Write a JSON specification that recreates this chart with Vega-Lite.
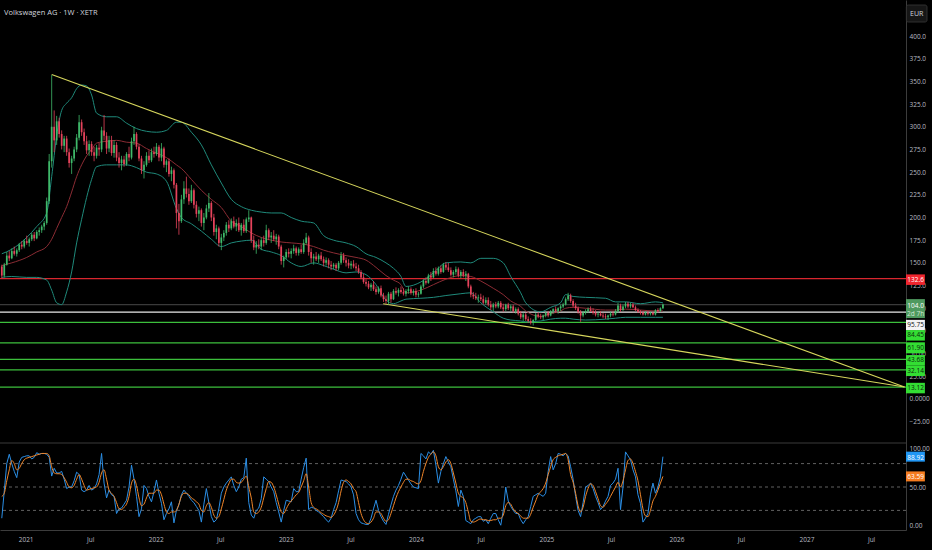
{
  "$schema": "https://vega.github.io/schema/vega-lite/v6.json",
  "autosize": "none",
  "width": 906,
  "height": 530,
  "padding": {"left": 0, "top": 0, "right": 26, "bottom": 20},
  "background": "#000000",
  "config": {
    "view": {"stroke": null},
    "font": "Open Sans",
    "axis": {"grid": false, "ticks": false, "labelColor": "#b8bbc2", "labelFontSize": 6.5, "labelFont": "Open Sans", "domainColor": "#3c3c3c", "labelOverlap": false}
  },
  "title": {
    "text": "Volkswagen AG · 1W · XETR",
    "anchor": "start",
    "frame": "group",
    "offset": -16,
    "dx": 4,
    "fontSize": 7.5,
    "fontWeight": "normal",
    "color": "#d1d4dc",
    "font": "Open Sans"
  },
  "datasets": {
    "candles": [
      {"d":"2020-10-26","o":146,"h":148,"l":133,"c":136,"r":10,"s":38},
      {"d":"2020-11-02","o":136,"h":150,"l":134,"c":148,"r":45,"s":42},
      {"d":"2020-11-09","o":148,"h":162,"l":147,"c":158,"r":80,"s":58},
      {"d":"2020-11-16","o":158,"h":163,"l":152,"c":155,"r":92,"s":72},
      {"d":"2020-11-23","o":155,"h":166,"l":154,"c":163,"r":80,"s":84},
      {"d":"2020-11-30","o":163,"h":168,"l":158,"c":160,"r":70,"s":80},
      {"d":"2020-12-07","o":160,"h":166,"l":157,"c":164,"r":62,"s":72},
      {"d":"2020-12-14","o":164,"h":172,"l":162,"c":170,"r":82,"s":74},
      {"d":"2020-12-21","o":170,"h":174,"l":165,"c":168,"r":88,"s":80},
      {"d":"2020-12-28","o":168,"h":176,"l":166,"c":174,"r":89,"s":85},
      {"d":"2021-01-04","o":174,"h":180,"l":170,"c":172,"r":90,"s":87},
      {"d":"2021-01-11","o":172,"h":178,"l":168,"c":176,"r":90,"s":88},
      {"d":"2021-01-18","o":176,"h":183,"l":174,"c":181,"r":86,"s":89},
      {"d":"2021-01-25","o":181,"h":184,"l":174,"c":177,"r":88,"s":90},
      {"d":"2021-02-01","o":177,"h":186,"l":176,"c":184,"r":94,"s":91},
      {"d":"2021-02-08","o":184,"h":189,"l":180,"c":186,"r":92,"s":92},
      {"d":"2021-02-15","o":186,"h":192,"l":183,"c":190,"r":93,"s":93},
      {"d":"2021-02-22","o":190,"h":196,"l":186,"c":194,"r":93,"s":93},
      {"d":"2021-03-01","o":194,"h":222,"l":192,"c":218,"r":92,"s":93},
      {"d":"2021-03-08","o":218,"h":270,"l":215,"c":262,"r":88,"s":90},
      {"d":"2021-03-15","o":262,"h":357,"l":255,"c":300,"r":64,"s":76},
      {"d":"2021-03-22","o":300,"h":318,"l":272,"c":285,"r":74,"s":68},
      {"d":"2021-03-29","o":285,"h":312,"l":280,"c":306,"r":68,"s":67},
      {"d":"2021-04-05","o":306,"h":310,"l":288,"c":292,"r":68,"s":67},
      {"d":"2021-04-12","o":292,"h":296,"l":275,"c":279,"r":70,"s":66},
      {"d":"2021-04-19","o":279,"h":290,"l":272,"c":287,"r":60,"s":62},
      {"d":"2021-04-26","o":287,"h":290,"l":268,"c":272,"r":48,"s":56},
      {"d":"2021-05-03","o":272,"h":276,"l":255,"c":260,"r":50,"s":50},
      {"d":"2021-05-10","o":260,"h":268,"l":248,"c":265,"r":50,"s":49},
      {"d":"2021-05-17","o":265,"h":278,"l":262,"c":275,"r":58,"s":52},
      {"d":"2021-05-24","o":275,"h":292,"l":272,"c":288,"r":69,"s":60},
      {"d":"2021-05-31","o":288,"h":313,"l":285,"c":305,"r":66,"s":66},
      {"d":"2021-06-07","o":305,"h":308,"l":290,"c":294,"r":46,"s":60},
      {"d":"2021-06-14","o":294,"h":298,"l":280,"c":284,"r":44,"s":52},
      {"d":"2021-06-21","o":284,"h":290,"l":270,"c":274,"r":46,"s":46},
      {"d":"2021-06-28","o":274,"h":285,"l":268,"c":281,"r":52,"s":47},
      {"d":"2021-07-05","o":281,"h":284,"l":268,"c":272,"r":46,"s":48},
      {"d":"2021-07-12","o":272,"h":278,"l":262,"c":268,"r":48,"s":49},
      {"d":"2021-07-19","o":268,"h":280,"l":265,"c":277,"r":54,"s":50},
      {"d":"2021-07-26","o":277,"h":282,"l":268,"c":275,"r":66,"s":56},
      {"d":"2021-08-02","o":275,"h":300,"l":272,"c":296,"r":93,"s":68},
      {"d":"2021-08-09","o":296,"h":313,"l":285,"c":290,"r":55,"s":72},
      {"d":"2021-08-16","o":290,"h":294,"l":270,"c":276,"r":36,"s":60},
      {"d":"2021-08-23","o":276,"h":290,"l":272,"c":285,"r":46,"s":46},
      {"d":"2021-08-30","o":285,"h":290,"l":268,"c":271,"r":40,"s":42},
      {"d":"2021-09-06","o":271,"h":285,"l":266,"c":280,"r":38,"s":38},
      {"d":"2021-09-13","o":280,"h":283,"l":262,"c":266,"r":16,"s":30},
      {"d":"2021-09-20","o":266,"h":272,"l":255,"c":260,"r":22,"s":22},
      {"d":"2021-09-27","o":260,"h":268,"l":252,"c":264,"r":23,"s":21},
      {"d":"2021-10-04","o":264,"h":268,"l":256,"c":259,"r":28,"s":24},
      {"d":"2021-10-11","o":259,"h":272,"l":257,"c":270,"r":33,"s":28},
      {"d":"2021-10-18","o":270,"h":278,"l":262,"c":266,"r":50,"s":38},
      {"d":"2021-10-25","o":266,"h":288,"l":264,"c":284,"r":78,"s":55},
      {"d":"2021-11-01","o":284,"h":300,"l":280,"c":292,"r":60,"s":60},
      {"d":"2021-11-08","o":292,"h":294,"l":275,"c":278,"r":38,"s":52},
      {"d":"2021-11-15","o":278,"h":281,"l":262,"c":265,"r":12,"s":36},
      {"d":"2021-11-22","o":265,"h":268,"l":248,"c":252,"r":22,"s":26},
      {"d":"2021-11-29","o":252,"h":262,"l":243,"c":258,"r":52,"s":28},
      {"d":"2021-12-06","o":258,"h":272,"l":256,"c":268,"r":48,"s":36},
      {"d":"2021-12-13","o":268,"h":274,"l":260,"c":263,"r":38,"s":42},
      {"d":"2021-12-20","o":263,"h":276,"l":261,"c":272,"r":31,"s":42},
      {"d":"2021-12-27","o":272,"h":278,"l":266,"c":270,"r":44,"s":42},
      {"d":"2022-01-03","o":270,"h":282,"l":268,"c":278,"r":59,"s":46},
      {"d":"2022-01-10","o":278,"h":280,"l":262,"c":266,"r":42,"s":46},
      {"d":"2022-01-17","o":266,"h":282,"l":262,"c":276,"r":29,"s":40},
      {"d":"2022-01-24","o":276,"h":278,"l":255,"c":258,"r":8,"s":28},
      {"d":"2022-01-31","o":258,"h":264,"l":250,"c":262,"r":16,"s":18},
      {"d":"2022-02-07","o":262,"h":265,"l":245,"c":248,"r":22,"s":16},
      {"d":"2022-02-14","o":248,"h":256,"l":240,"c":252,"r":31,"s":18},
      {"d":"2022-02-21","o":252,"h":254,"l":232,"c":236,"r":4,"s":18},
      {"d":"2022-02-28","o":236,"h":238,"l":188,"c":205,"r":20,"s":20},
      {"d":"2022-03-07","o":205,"h":215,"l":181,"c":196,"r":27,"s":28},
      {"d":"2022-03-14","o":196,"h":225,"l":194,"c":220,"r":40,"s":38},
      {"d":"2022-03-21","o":220,"h":240,"l":215,"c":232,"r":46,"s":42},
      {"d":"2022-03-28","o":232,"h":245,"l":222,"c":226,"r":42,"s":42},
      {"d":"2022-04-04","o":226,"h":232,"l":214,"c":218,"r":38,"s":40},
      {"d":"2022-04-11","o":218,"h":236,"l":216,"c":230,"r":33,"s":36},
      {"d":"2022-04-18","o":230,"h":232,"l":210,"c":214,"r":30,"s":34},
      {"d":"2022-04-25","o":214,"h":218,"l":200,"c":204,"r":25,"s":31},
      {"d":"2022-05-02","o":204,"h":212,"l":196,"c":208,"r":20,"s":28},
      {"d":"2022-05-09","o":208,"h":210,"l":190,"c":194,"r":5,"s":20},
      {"d":"2022-05-16","o":194,"h":205,"l":186,"c":200,"r":28,"s":18},
      {"d":"2022-05-23","o":200,"h":214,"l":198,"c":210,"r":48,"s":26},
      {"d":"2022-05-30","o":210,"h":227,"l":206,"c":216,"r":30,"s":30},
      {"d":"2022-06-06","o":216,"h":218,"l":196,"c":200,"r":12,"s":24},
      {"d":"2022-06-13","o":200,"h":204,"l":180,"c":184,"r":5,"s":14},
      {"d":"2022-06-20","o":184,"h":192,"l":176,"c":188,"r":8,"s":10},
      {"d":"2022-06-27","o":188,"h":190,"l":168,"c":172,"r":22,"s":12},
      {"d":"2022-07-04","o":172,"h":182,"l":164,"c":178,"r":42,"s":22},
      {"d":"2022-07-11","o":178,"h":186,"l":174,"c":183,"r":50,"s":34},
      {"d":"2022-07-18","o":183,"h":195,"l":180,"c":192,"r":55,"s":46},
      {"d":"2022-07-25","o":192,"h":197,"l":184,"c":188,"r":59,"s":54},
      {"d":"2022-08-01","o":188,"h":199,"l":186,"c":196,"r":63,"s":60},
      {"d":"2022-08-08","o":196,"h":201,"l":188,"c":190,"r":52,"s":60},
      {"d":"2022-08-15","o":190,"h":198,"l":185,"c":194,"r":44,"s":56},
      {"d":"2022-08-22","o":194,"h":200,"l":184,"c":186,"r":50,"s":55},
      {"d":"2022-08-29","o":186,"h":194,"l":180,"c":192,"r":60,"s":56},
      {"d":"2022-09-05","o":192,"h":198,"l":183,"c":185,"r":62,"s":60},
      {"d":"2022-09-12","o":185,"h":200,"l":183,"c":198,"r":87,"s":64},
      {"d":"2022-09-19","o":198,"h":208,"l":195,"c":200,"r":30,"s":50},
      {"d":"2022-09-26","o":200,"h":201,"l":172,"c":175,"r":14,"s":36},
      {"d":"2022-10-03","o":175,"h":180,"l":164,"c":167,"r":10,"s":18},
      {"d":"2022-10-10","o":167,"h":174,"l":160,"c":170,"r":20,"s":16},
      {"d":"2022-10-17","o":170,"h":176,"l":165,"c":168,"r":23,"s":18},
      {"d":"2022-10-24","o":168,"h":178,"l":164,"c":175,"r":35,"s":24},
      {"d":"2022-10-31","o":175,"h":180,"l":168,"c":172,"r":63,"s":36},
      {"d":"2022-11-07","o":172,"h":192,"l":170,"c":186,"r":60,"s":48},
      {"d":"2022-11-14","o":186,"h":188,"l":175,"c":178,"r":57,"s":57},
      {"d":"2022-11-21","o":178,"h":184,"l":172,"c":180,"r":50,"s":56},
      {"d":"2022-11-28","o":180,"h":186,"l":174,"c":176,"r":44,"s":50},
      {"d":"2022-12-05","o":176,"h":182,"l":170,"c":179,"r":30,"s":40},
      {"d":"2022-12-12","o":179,"h":181,"l":165,"c":168,"r":18,"s":28},
      {"d":"2022-12-19","o":168,"h":170,"l":148,"c":152,"r":5,"s":18},
      {"d":"2022-12-26","o":152,"h":158,"l":145,"c":156,"r":20,"s":16},
      {"d":"2023-01-02","o":156,"h":165,"l":154,"c":162,"r":33,"s":22},
      {"d":"2023-01-09","o":162,"h":166,"l":156,"c":160,"r":32,"s":28},
      {"d":"2023-01-16","o":160,"h":166,"l":155,"c":163,"r":31,"s":32},
      {"d":"2023-01-23","o":163,"h":170,"l":160,"c":166,"r":48,"s":36},
      {"d":"2023-01-30","o":166,"h":168,"l":158,"c":161,"r":44,"s":40},
      {"d":"2023-02-06","o":161,"h":167,"l":158,"c":165,"r":44,"s":43},
      {"d":"2023-02-13","o":165,"h":170,"l":160,"c":162,"r":60,"s":50},
      {"d":"2023-02-20","o":162,"h":176,"l":160,"c":172,"r":75,"s":58},
      {"d":"2023-02-27","o":172,"h":183,"l":170,"c":178,"r":87,"s":67},
      {"d":"2023-03-06","o":178,"h":180,"l":158,"c":162,"r":21,"s":50},
      {"d":"2023-03-13","o":162,"h":166,"l":150,"c":155,"r":24,"s":30},
      {"d":"2023-03-20","o":155,"h":160,"l":148,"c":157,"r":23,"s":24},
      {"d":"2023-03-27","o":157,"h":162,"l":152,"c":154,"r":20,"s":22},
      {"d":"2023-04-03","o":154,"h":160,"l":150,"c":158,"r":18,"s":20},
      {"d":"2023-04-10","o":158,"h":162,"l":152,"c":154,"r":15,"s":17},
      {"d":"2023-04-17","o":154,"h":157,"l":146,"c":150,"r":12,"s":15},
      {"d":"2023-04-24","o":150,"h":156,"l":147,"c":153,"r":8,"s":13},
      {"d":"2023-05-01","o":153,"h":155,"l":144,"c":148,"r":5,"s":12},
      {"d":"2023-05-08","o":148,"h":152,"l":142,"c":146,"r":10,"s":11},
      {"d":"2023-05-15","o":146,"h":150,"l":143,"c":148,"r":21,"s":14},
      {"d":"2023-05-22","o":148,"h":150,"l":141,"c":144,"r":30,"s":20},
      {"d":"2023-05-29","o":144,"h":152,"l":142,"c":150,"r":45,"s":30},
      {"d":"2023-06-05","o":150,"h":162,"l":148,"c":158,"r":59,"s":45},
      {"d":"2023-06-12","o":158,"h":161,"l":150,"c":153,"r":58,"s":56},
      {"d":"2023-06-19","o":153,"h":156,"l":146,"c":150,"r":57,"s":59},
      {"d":"2023-06-26","o":150,"h":154,"l":144,"c":147,"r":54,"s":57},
      {"d":"2023-07-03","o":147,"h":152,"l":143,"c":149,"r":50,"s":54},
      {"d":"2023-07-10","o":149,"h":153,"l":144,"c":146,"r":40,"s":48},
      {"d":"2023-07-17","o":146,"h":150,"l":141,"c":144,"r":16,"s":44},
      {"d":"2023-07-24","o":144,"h":148,"l":138,"c":140,"r":8,"s":30},
      {"d":"2023-07-31","o":140,"h":142,"l":132,"c":134,"r":4,"s":16},
      {"d":"2023-08-07","o":134,"h":138,"l":127,"c":129,"r":3,"s":8},
      {"d":"2023-08-14","o":129,"h":132,"l":124,"c":127,"r":2,"s":4},
      {"d":"2023-08-21","o":127,"h":130,"l":121,"c":123,"r":2,"s":3},
      {"d":"2023-08-28","o":123,"h":128,"l":119,"c":126,"r":10,"s":5},
      {"d":"2023-09-04","o":126,"h":130,"l":119,"c":121,"r":22,"s":10},
      {"d":"2023-09-11","o":121,"h":124,"l":115,"c":118,"r":33,"s":18},
      {"d":"2023-09-18","o":118,"h":124,"l":116,"c":122,"r":20,"s":18},
      {"d":"2023-09-25","o":122,"h":125,"l":112,"c":114,"r":12,"s":16},
      {"d":"2023-10-02","o":114,"h":117,"l":107,"c":110,"r":6,"s":10},
      {"d":"2023-10-09","o":110,"h":114,"l":105,"c":108,"r":2,"s":6},
      {"d":"2023-10-16","o":108,"h":118,"l":104,"c":116,"r":15,"s":8},
      {"d":"2023-10-23","o":116,"h":118,"l":106,"c":110,"r":27,"s":16},
      {"d":"2023-10-30","o":110,"h":121,"l":109,"c":119,"r":38,"s":26},
      {"d":"2023-11-06","o":119,"h":123,"l":115,"c":117,"r":46,"s":36},
      {"d":"2023-11-13","o":117,"h":122,"l":113,"c":120,"r":52,"s":44},
      {"d":"2023-11-20","o":120,"h":124,"l":116,"c":118,"r":60,"s":50},
      {"d":"2023-11-27","o":118,"h":122,"l":114,"c":116,"r":69,"s":56},
      {"d":"2023-12-04","o":116,"h":121,"l":113,"c":119,"r":64,"s":60},
      {"d":"2023-12-11","o":119,"h":124,"l":116,"c":121,"r":59,"s":60},
      {"d":"2023-12-18","o":121,"h":123,"l":115,"c":117,"r":54,"s":58},
      {"d":"2023-12-25","o":117,"h":121,"l":114,"c":119,"r":50,"s":57},
      {"d":"2024-01-01","o":119,"h":122,"l":112,"c":115,"r":49,"s":55},
      {"d":"2024-01-08","o":115,"h":118,"l":112,"c":116,"r":48,"s":54},
      {"d":"2024-01-15","o":116,"h":126,"l":115,"c":124,"r":93,"s":58},
      {"d":"2024-01-22","o":124,"h":132,"l":122,"c":130,"r":90,"s":70},
      {"d":"2024-01-29","o":130,"h":134,"l":126,"c":128,"r":86,"s":80},
      {"d":"2024-02-05","o":128,"h":138,"l":127,"c":136,"r":95,"s":88},
      {"d":"2024-02-12","o":136,"h":140,"l":130,"c":134,"r":92,"s":92},
      {"d":"2024-02-19","o":134,"h":144,"l":133,"c":141,"r":97,"s":95},
      {"d":"2024-02-26","o":141,"h":145,"l":136,"c":138,"r":78,"s":90},
      {"d":"2024-03-04","o":138,"h":146,"l":136,"c":144,"r":55,"s":76},
      {"d":"2024-03-11","o":144,"h":147,"l":138,"c":140,"r":70,"s":72},
      {"d":"2024-03-18","o":140,"h":150,"l":139,"c":148,"r":80,"s":76},
      {"d":"2024-03-25","o":148,"h":151,"l":142,"c":145,"r":89,"s":82},
      {"d":"2024-04-01","o":145,"h":150,"l":140,"c":142,"r":82,"s":85},
      {"d":"2024-04-08","o":142,"h":145,"l":135,"c":137,"r":76,"s":80},
      {"d":"2024-04-15","o":137,"h":142,"l":134,"c":140,"r":60,"s":68},
      {"d":"2024-04-22","o":140,"h":146,"l":137,"c":143,"r":45,"s":55},
      {"d":"2024-04-29","o":143,"h":145,"l":134,"c":136,"r":25,"s":42},
      {"d":"2024-05-06","o":136,"h":142,"l":133,"c":140,"r":46,"s":38},
      {"d":"2024-05-13","o":140,"h":143,"l":134,"c":136,"r":38,"s":36},
      {"d":"2024-05-20","o":136,"h":141,"l":130,"c":138,"r":7,"s":30},
      {"d":"2024-05-27","o":138,"h":139,"l":122,"c":124,"r":5,"s":18},
      {"d":"2024-06-03","o":124,"h":126,"l":112,"c":115,"r":3,"s":6},
      {"d":"2024-06-10","o":115,"h":118,"l":110,"c":113,"r":8,"s":5},
      {"d":"2024-06-17","o":113,"h":117,"l":109,"c":111,"r":10,"s":6},
      {"d":"2024-06-24","o":111,"h":115,"l":106,"c":112,"r":12,"s":8},
      {"d":"2024-07-01","o":112,"h":116,"l":108,"c":110,"r":12,"s":9},
      {"d":"2024-07-08","o":110,"h":114,"l":104,"c":106,"r":6,"s":8},
      {"d":"2024-07-15","o":106,"h":112,"l":104,"c":109,"r":8,"s":8},
      {"d":"2024-07-22","o":109,"h":112,"l":102,"c":104,"r":3,"s":7},
      {"d":"2024-07-29","o":104,"h":108,"l":98,"c":101,"r":10,"s":7},
      {"d":"2024-08-05","o":101,"h":106,"l":97,"c":104,"r":16,"s":8},
      {"d":"2024-08-12","o":104,"h":107,"l":100,"c":102,"r":16,"s":8},
      {"d":"2024-08-19","o":102,"h":108,"l":100,"c":106,"r":8,"s":10},
      {"d":"2024-08-26","o":106,"h":108,"l":99,"c":101,"r":1,"s":10},
      {"d":"2024-09-02","o":101,"h":105,"l":96,"c":99,"r":20,"s":14},
      {"d":"2024-09-09","o":99,"h":105,"l":97,"c":104,"r":50,"s":26},
      {"d":"2024-09-16","o":104,"h":106,"l":98,"c":100,"r":32,"s":30},
      {"d":"2024-09-23","o":100,"h":104,"l":97,"c":102,"r":25,"s":28},
      {"d":"2024-09-30","o":102,"h":104,"l":95,"c":97,"r":20,"s":22},
      {"d":"2024-10-07","o":97,"h":101,"l":94,"c":99,"r":16,"s":18},
      {"d":"2024-10-14","o":99,"h":101,"l":92,"c":94,"r":16,"s":16},
      {"d":"2024-10-21","o":94,"h":97,"l":88,"c":90,"r":8,"s":13},
      {"d":"2024-10-28","o":90,"h":95,"l":86,"c":93,"r":3,"s":10},
      {"d":"2024-11-04","o":93,"h":95,"l":86,"c":88,"r":8,"s":10},
      {"d":"2024-11-11","o":88,"h":91,"l":84,"c":86,"r":12,"s":10},
      {"d":"2024-11-18","o":86,"h":89,"l":82,"c":84,"r":25,"s":15},
      {"d":"2024-11-25","o":84,"h":88,"l":81,"c":87,"r":38,"s":24},
      {"d":"2024-12-02","o":87,"h":95,"l":86,"c":93,"r":40,"s":32},
      {"d":"2024-12-09","o":93,"h":96,"l":89,"c":91,"r":42,"s":40},
      {"d":"2024-12-16","o":91,"h":94,"l":88,"c":90,"r":40,"s":44},
      {"d":"2024-12-23","o":90,"h":93,"l":87,"c":92,"r":38,"s":48},
      {"d":"2024-12-30","o":92,"h":96,"l":90,"c":95,"r":42,"s":55},
      {"d":"2025-01-06","o":95,"h":97,"l":90,"c":92,"r":70,"s":66},
      {"d":"2025-01-13","o":92,"h":98,"l":91,"c":97,"r":89,"s":76},
      {"d":"2025-01-20","o":97,"h":100,"l":94,"c":99,"r":72,"s":85},
      {"d":"2025-01-27","o":99,"h":102,"l":95,"c":97,"r":80,"s":88},
      {"d":"2025-02-03","o":97,"h":101,"l":94,"c":100,"r":93,"s":90},
      {"d":"2025-02-10","o":100,"h":104,"l":97,"c":102,"r":92,"s":91},
      {"d":"2025-02-17","o":102,"h":106,"l":100,"c":104,"r":90,"s":92},
      {"d":"2025-02-24","o":104,"h":112,"l":103,"c":110,"r":93,"s":93},
      {"d":"2025-03-03","o":110,"h":117,"l":108,"c":114,"r":90,"s":85},
      {"d":"2025-03-10","o":114,"h":116,"l":106,"c":108,"r":76,"s":66},
      {"d":"2025-03-17","o":108,"h":110,"l":101,"c":103,"r":60,"s":56},
      {"d":"2025-03-24","o":103,"h":106,"l":98,"c":100,"r":38,"s":42},
      {"d":"2025-03-31","o":100,"h":102,"l":94,"c":96,"r":20,"s":26},
      {"d":"2025-04-07","o":96,"h":98,"l":85,"c":92,"r":12,"s":18},
      {"d":"2025-04-14","o":92,"h":97,"l":90,"c":95,"r":30,"s":24},
      {"d":"2025-04-21","o":95,"h":99,"l":93,"c":97,"r":50,"s":38},
      {"d":"2025-04-28","o":97,"h":101,"l":95,"c":99,"r":52,"s":48},
      {"d":"2025-05-05","o":99,"h":102,"l":96,"c":97,"r":55,"s":54},
      {"d":"2025-05-12","o":97,"h":100,"l":93,"c":95,"r":48,"s":52},
      {"d":"2025-05-19","o":95,"h":98,"l":91,"c":93,"r":38,"s":44},
      {"d":"2025-05-26","o":93,"h":96,"l":90,"c":94,"r":30,"s":35},
      {"d":"2025-06-02","o":94,"h":97,"l":91,"c":92,"r":21,"s":26},
      {"d":"2025-06-09","o":92,"h":95,"l":89,"c":91,"r":25,"s":24},
      {"d":"2025-06-16","o":91,"h":94,"l":88,"c":90,"r":32,"s":28},
      {"d":"2025-06-23","o":90,"h":93,"l":87,"c":92,"r":38,"s":32},
      {"d":"2025-06-30","o":92,"h":96,"l":90,"c":94,"r":52,"s":38},
      {"d":"2025-07-07","o":94,"h":97,"l":91,"c":93,"r":55,"s":44},
      {"d":"2025-07-14","o":93,"h":99,"l":92,"c":97,"r":60,"s":50},
      {"d":"2025-07-21","o":97,"h":106,"l":95,"c":103,"r":74,"s":56},
      {"d":"2025-07-28","o":103,"h":105,"l":96,"c":98,"r":21,"s":50},
      {"d":"2025-08-04","o":98,"h":104,"l":97,"c":102,"r":50,"s":58},
      {"d":"2025-08-11","o":102,"h":107,"l":100,"c":105,"r":95,"s":72},
      {"d":"2025-08-18","o":105,"h":107,"l":100,"c":102,"r":90,"s":84},
      {"d":"2025-08-25","o":102,"h":106,"l":100,"c":104,"r":85,"s":86},
      {"d":"2025-09-01","o":104,"h":106,"l":100,"c":101,"r":72,"s":80},
      {"d":"2025-09-08","o":101,"h":103,"l":97,"c":98,"r":63,"s":70},
      {"d":"2025-09-15","o":98,"h":100,"l":95,"c":96,"r":40,"s":58},
      {"d":"2025-09-22","o":96,"h":98,"l":93,"c":95,"r":29,"s":40},
      {"d":"2025-09-29","o":95,"h":97,"l":92,"c":93,"r":5,"s":22},
      {"d":"2025-10-06","o":93,"h":97,"l":92,"c":95,"r":10,"s":13},
      {"d":"2025-10-13","o":95,"h":97,"l":92,"c":94,"r":16,"s":12},
      {"d":"2025-10-20","o":94,"h":96,"l":92,"c":95,"r":40,"s":20},
      {"d":"2025-10-27","o":95,"h":96,"l":92,"c":93,"r":55,"s":32},
      {"d":"2025-11-03","o":93,"h":99,"l":92,"c":98,"r":42,"s":38},
      {"d":"2025-11-10","o":98,"h":100,"l":95,"c":97,"r":50,"s":46},
      {"d":"2025-11-17","o":97,"h":101,"l":96,"c":100,"r":63,"s":55},
      {"d":"2025-11-24","o":100,"h":105,"l":99,"c":104,"r":88.92,"s":63.59}
    ],
    "bb": [
      {"d":"2020-10-26","u":160,"m":147,"l":134},
      {"d":"2020-11-23","u":165,"m":150,"l":135},
      {"d":"2021-01-04","u":178,"m":156,"l":134},
      {"d":"2021-02-01","u":190,"m":162,"l":134},
      {"d":"2021-03-01","u":205,"m":168,"l":131},
      {"d":"2021-03-15","u":245,"m":176,"l":120},
      {"d":"2021-03-29","u":290,"m":188,"l":106},
      {"d":"2021-04-12","u":318,"m":200,"l":104},
      {"d":"2021-04-26","u":326,"m":212,"l":118},
      {"d":"2021-05-10","u":332,"m":228,"l":140},
      {"d":"2021-05-24","u":342,"m":245,"l":172},
      {"d":"2021-06-07","u":346,"m":258,"l":198},
      {"d":"2021-06-21","u":345,"m":268,"l":222},
      {"d":"2021-07-05","u":335,"m":275,"l":242},
      {"d":"2021-07-19","u":315,"m":282,"l":256},
      {"d":"2021-08-16","u":311,"m":284,"l":258},
      {"d":"2021-09-13","u":311,"m":285,"l":258},
      {"d":"2021-10-11","u":304,"m":283,"l":258},
      {"d":"2021-11-08","u":298,"m":282,"l":255},
      {"d":"2021-12-06","u":295,"m":276,"l":250},
      {"d":"2022-01-03","u":294,"m":271,"l":248},
      {"d":"2022-01-31","u":296,"m":266,"l":240},
      {"d":"2022-02-28","u":305,"m":258,"l":210},
      {"d":"2022-03-14","u":305,"m":254,"l":200},
      {"d":"2022-04-11","u":294,"m":242,"l":193},
      {"d":"2022-05-09","u":280,"m":230,"l":185},
      {"d":"2022-06-06","u":258,"m":220,"l":176},
      {"d":"2022-07-04","u":238,"m":211,"l":168},
      {"d":"2022-08-01","u":220,"m":196,"l":172},
      {"d":"2022-08-29","u":212,"m":190,"l":174},
      {"d":"2022-09-26","u":208,"m":183,"l":175},
      {"d":"2022-10-24","u":206,"m":178,"l":165},
      {"d":"2022-11-21","u":205,"m":175,"l":162},
      {"d":"2022-12-19","u":205,"m":173,"l":158},
      {"d":"2023-01-16","u":200,"m":172,"l":150},
      {"d":"2023-02-13","u":196,"m":171,"l":146},
      {"d":"2023-03-20","u":194,"m":168,"l":150},
      {"d":"2023-04-17","u":180,"m":164,"l":147},
      {"d":"2023-05-15","u":175,"m":161,"l":143},
      {"d":"2023-06-19","u":172,"m":158,"l":139},
      {"d":"2023-07-17","u":168,"m":156,"l":140},
      {"d":"2023-08-14","u":160,"m":153,"l":137},
      {"d":"2023-09-11","u":156,"m":145,"l":126},
      {"d":"2023-10-09","u":150,"m":136,"l":109},
      {"d":"2023-10-30","u":144,"m":131,"l":105},
      {"d":"2023-11-20","u":135,"m":126,"l":108},
      {"d":"2023-12-04","u":124,"m":117,"l":110},
      {"d":"2024-01-15","u":129,"m":120,"l":111},
      {"d":"2024-02-19","u":139,"m":126,"l":112},
      {"d":"2024-03-25","u":150,"m":132,"l":114},
      {"d":"2024-05-06","u":151,"m":136,"l":116},
      {"d":"2024-06-03","u":150,"m":135,"l":117},
      {"d":"2024-07-01","u":155,"m":130,"l":106},
      {"d":"2024-08-05","u":155,"m":122,"l":96},
      {"d":"2024-09-02","u":150,"m":115,"l":89},
      {"d":"2024-09-23","u":135,"m":108,"l":87},
      {"d":"2024-10-21","u":117,"m":102,"l":86},
      {"d":"2024-11-04","u":106,"m":97,"l":85},
      {"d":"2024-12-16","u":96,"m":91,"l":86},
      {"d":"2025-01-13","u":101,"m":94,"l":88},
      {"d":"2025-02-10","u":106,"m":97,"l":89},
      {"d":"2025-02-24","u":115,"m":100,"l":89},
      {"d":"2025-03-17","u":113,"m":101,"l":88},
      {"d":"2025-04-21","u":112,"m":100,"l":87},
      {"d":"2025-06-16","u":111,"m":98,"l":88},
      {"d":"2025-07-14","u":107,"m":98,"l":89},
      {"d":"2025-08-11","u":107,"m":99,"l":90},
      {"d":"2025-09-22","u":105,"m":98,"l":90},
      {"d":"2025-11-03","u":107,"m":97,"l":90},
      {"d":"2025-11-24","u":106,"m":97,"l":90}
    ],
    "trend": [
      {"id":"upper","d":"2021-03-15","v":357.5},
      {"id":"upper","d":"2027-10-03","v":13.12},
      {"id":"lower","d":"2023-10-01","v":105},
      {"id":"lower","d":"2027-10-03","v":13.12}
    ],
    "levels": [
      {"v":132.6,"k":"res"},
      {"v":104.0,"k":"last"},
      {"v":95.75,"k":"ref"},
      {"v":84.45,"k":"sup"},
      {"v":61.90,"k":"sup"},
      {"v":43.68,"k":"sup"},
      {"v":32.14,"k":"sup"},
      {"v":13.12,"k":"sup"}
    ],
    "tags": [
      {"p":132.6,"t":"132.6","k":"res"},
      {"p":104.0,"t":"104.0","k":"last"},
      {"p":95.75,"t":"95.75","k":"ref"},
      {"p":84.45,"t":"84.45","k":"sup"},
      {"p":61.90,"t":"61.90","k":"sup"},
      {"p":43.68,"t":"43.68","k":"sup"},
      {"p":32.14,"t":"32.14","k":"sup"},
      {"p":13.12,"t":"13.12","k":"sup"}
    ],
    "rsiTags": [
      {"r":88.92,"t":"88.92","k":"rsi"},
      {"r":63.59,"t":"63.59","k":"ma"}
    ],
    "rsiLevels": [{"lvl":80},{"lvl":50},{"lvl":20}]
  },
  "resolve": {"scale": {"y": "independent"}},
  "layer": [
    {
      "layer": [
        {
          "data": {"name": "levels"},
          "mark": {"type": "rule", "strokeWidth": 1.3},
          "encoding": {
            "y": {
              "field": "v", "type": "quantitative", "title": null,
              "scale": {"domain": [-144.4, 439.7], "nice": false, "zero": false, "padding": 0},
              "axis": {
                "orient": "right",
                "values": [-25, 25, 75, 125, 175, 225, 275, 325, 375],
                "labelExpr": "datum.value >= 100 ? format(datum.value, '.1f') : format(datum.value, '.2f')",
                "labelAlign": "left",
                "labelPadding": 3,
                "domain": true,
                "labelOverlap": false
              }
            },
            "stroke": {
              "field": "k", "type": "nominal", "legend": null,
              "scale": {"domain": ["res", "last", "ref", "sup"], "range": ["#d8262e", "#3a3a3a", "#e8e8e8", "#3cbf3c"]}
            }
          }
        },
        {
          "data": {"name": "bb"},
          "mark": {"type": "line", "color": "#1f8a7b", "strokeWidth": 1, "interpolate": "monotone"},
          "encoding": {
            "x": {"field": "d", "type": "temporal", "title": null},
            "y": {"field": "u", "type": "quantitative", "title": null}
          }
        },
        {
          "data": {"name": "bb"},
          "mark": {"type": "line", "color": "#1f8a7b", "strokeWidth": 1, "interpolate": "monotone"},
          "encoding": {
            "x": {"field": "d", "type": "temporal", "title": null},
            "y": {"field": "l", "type": "quantitative", "title": null}
          }
        },
        {
          "data": {"name": "bb"},
          "mark": {"type": "line", "color": "#8c2c34", "strokeWidth": 1, "interpolate": "monotone"},
          "encoding": {
            "x": {"field": "d", "type": "temporal", "title": null},
            "y": {"field": "m", "type": "quantitative", "title": null}
          }
        },
        {
          "data": {"name": "trend"},
          "mark": {"type": "line", "color": "#d6d65c", "strokeWidth": 1.1},
          "encoding": {
            "x": {"field": "d", "type": "temporal", "title": null},
            "y": {"field": "v", "type": "quantitative", "title": null},
            "detail": {"field": "id"}
          }
        },
        {
          "data": {"name": "candles"},
          "mark": {"type": "rule", "strokeWidth": 0.8},
          "encoding": {
            "x": {"field": "d", "type": "temporal", "title": null},
            "y": {"field": "l", "type": "quantitative", "title": null},
            "y2": {"field": "h"},
            "color": {"condition": {"test": "datum.c >= datum.o", "value": "#3fb96a"}, "value": "#e5435b"}
          }
        },
        {
          "data": {"name": "candles"},
          "mark": {"type": "bar", "size": 1.7},
          "encoding": {
            "x": {
              "field": "d", "type": "temporal", "title": null,
              "scale": {"domain": [{"year": 2020, "month": 10, "date": 21}, {"year": 2027, "month": 10, "date": 7}], "padding": 0},
              "axis": {
                "values": [
                  {"year": 2021, "month": 1, "date": 1}, {"year": 2021, "month": 7, "date": 1},
                  {"year": 2022, "month": 1, "date": 1}, {"year": 2022, "month": 7, "date": 1},
                  {"year": 2023, "month": 1, "date": 1}, {"year": 2023, "month": 7, "date": 1},
                  {"year": 2024, "month": 1, "date": 1}, {"year": 2024, "month": 7, "date": 1},
                  {"year": 2025, "month": 1, "date": 1}, {"year": 2025, "month": 7, "date": 1},
                  {"year": 2026, "month": 1, "date": 1}, {"year": 2026, "month": 7, "date": 1},
                  {"year": 2027, "month": 1, "date": 1}, {"year": 2027, "month": 7, "date": 1}
                ],
                "labelExpr": "month(datum.value) == 0 ? timeFormat(datum.value, '%Y') : 'Jul'",
                "labelPadding": 6,
                "labelFlush": false,
                "labelOverlap": false,
                "domain": true
              }
            },
            "y": {"field": "o", "type": "quantitative", "title": null},
            "y2": {"field": "c"},
            "color": {"condition": {"test": "datum.c >= datum.o", "value": "#3fb96a"}, "value": "#e5435b"}
          }
        },
        {
          "data": {"name": "tags"},
          "transform": [{"filter": {"field": "p", "oneOf": [132.6, 43.68, 32.14, 13.12]}}],
          "mark": {"type": "bar", "orient": "horizontal", "size": 10.5, "yOffset": 1},
          "encoding": {
            "x": {"datum": {"year": 2027, "month": 10, "date": 7}, "type": "temporal", "title": null},
            "x2": {"datum": {"year": 2027, "month": 11, "date": 29}},
            "y": {"field": "p", "type": "quantitative", "title": null},
            "fill": {"field": "k", "type": "nominal", "legend": null, "scale": {"domain": ["res", "last", "ref", "sup"], "range": ["#f0252e", "#4f9a5f", "#f4f4f4", "#33dd33"]}}
          }
        },
        {
          "data": {"name": "tags"},
          "transform": [{"filter": {"field": "p", "oneOf": [95.75, 84.45]}}],
          "mark": {"type": "bar", "orient": "horizontal", "size": 10.5, "yOffset": 13},
          "encoding": {
            "x": {"datum": {"year": 2027, "month": 10, "date": 7}, "type": "temporal", "title": null},
            "x2": {"datum": {"year": 2027, "month": 11, "date": 29}},
            "y": {"field": "p", "type": "quantitative", "title": null},
            "fill": {"field": "k", "type": "nominal", "legend": null, "scale": {"domain": ["res", "last", "ref", "sup"], "range": ["#f0252e", "#4f9a5f", "#f4f4f4", "#33dd33"]}}
          }
        },
        {
          "data": {"name": "tags"},
          "transform": [{"filter": {"field": "p", "oneOf": [61.9]}}],
          "mark": {"type": "bar", "orient": "horizontal", "size": 11, "yOffset": 5},
          "encoding": {
            "x": {"datum": {"year": 2027, "month": 10, "date": 7}, "type": "temporal", "title": null},
            "x2": {"datum": {"year": 2027, "month": 11, "date": 29}},
            "y": {"field": "p", "type": "quantitative", "title": null},
            "fill": {"field": "k", "type": "nominal", "legend": null, "scale": {"domain": ["res", "last", "ref", "sup"], "range": ["#f0252e", "#4f9a5f", "#f4f4f4", "#33dd33"]}}
          }
        },
        {
          "data": {"name": "tags"},
          "transform": [{"filter": {"field": "p", "oneOf": [104]}}],
          "mark": {"type": "bar", "orient": "horizontal", "size": 19, "yOffset": 4},
          "encoding": {
            "x": {"datum": {"year": 2027, "month": 10, "date": 7}, "type": "temporal", "title": null},
            "x2": {"datum": {"year": 2027, "month": 11, "date": 29}},
            "y": {"field": "p", "type": "quantitative", "title": null},
            "fill": {"field": "k", "type": "nominal", "legend": null, "scale": {"domain": ["res", "last", "ref", "sup"], "range": ["#f0252e", "#4f9a5f", "#f4f4f4", "#33dd33"]}}
          }
        },
        {
          "data": {"name": "tags"},
          "transform": [{"filter": {"field": "p", "oneOf": [132.6, 43.68, 32.14, 13.12, 104]}}],
          "mark": {"type": "text", "fontSize": 6.5, "align": "center", "baseline": "middle", "dy": 1},
          "encoding": {
            "x": {"datum": {"year": 2027, "month": 11, "date": 3}, "type": "temporal", "title": null},
            "y": {"field": "p", "type": "quantitative", "title": null},
            "text": {"field": "t"},
            "color": {"condition": {"test": "datum.k == 'ref' || datum.k == 'sup'", "value": "#0c230c"}, "value": "#ffffff"}
          }
        },
        {
          "data": {"name": "tags"},
          "transform": [{"filter": {"field": "p", "oneOf": [95.75, 84.45]}}],
          "mark": {"type": "text", "fontSize": 6.5, "align": "center", "baseline": "middle", "dy": 13},
          "encoding": {
            "x": {"datum": {"year": 2027, "month": 11, "date": 3}, "type": "temporal", "title": null},
            "y": {"field": "p", "type": "quantitative", "title": null},
            "text": {"field": "t"},
            "color": {"condition": {"test": "datum.k == 'ref'", "value": "#111111"}, "value": "#0c230c"}
          }
        },
        {
          "data": {"name": "tags"},
          "transform": [{"filter": {"field": "p", "oneOf": [61.9]}}],
          "mark": {"type": "text", "fontSize": 6.5, "align": "center", "baseline": "middle", "dy": 5},
          "encoding": {
            "x": {"datum": {"year": 2027, "month": 11, "date": 3}, "type": "temporal", "title": null},
            "y": {"field": "p", "type": "quantitative", "title": null},
            "text": {"field": "t"},
            "color": {"value": "#0c230c"}
          }
        },
        {
          "data": {"name": "tags"},
          "transform": [{"filter": {"field": "p", "oneOf": [104]}}],
          "mark": {"type": "text", "fontSize": 6.5, "align": "center", "baseline": "middle", "dy": 9, "color": "#cfe8d4"},
          "encoding": {
            "x": {"datum": {"year": 2027, "month": 11, "date": 3}, "type": "temporal", "title": null},
            "y": {"field": "p", "type": "quantitative", "title": null},
            "text": {"value": "2d 7h"}
          }
        },
        {
          "data": {"values": [{"unit": "EUR"}]},
          "mark": {"type": "bar", "orient": "horizontal", "size": 17, "fill": "#161616", "stroke": "#3a3a3a", "strokeWidth": 0.8, "cornerRadius": 2},
          "encoding": {
            "x": {"datum": {"year": 2027, "month": 10, "date": 8}, "type": "temporal", "title": null},
            "x2": {"datum": {"year": 2027, "month": 12, "date": 5}},
            "y": {"datum": 424.8, "type": "quantitative", "title": null}
          }
        },
        {
          "data": {"values": [{"unit": "EUR"}]},
          "mark": {"type": "text", "fontSize": 7, "align": "center", "baseline": "middle", "color": "#d1d4dc"},
          "encoding": {
            "x": {"datum": {"year": 2027, "month": 11, "date": 6}, "type": "temporal", "title": null},
            "y": {"datum": 424.8, "type": "quantitative", "title": null},
            "text": {"field": "unit"}
          }
        }
      ]
    },
    {
      "layer": [
        {
          "data": {"values": [{"sep": "panel"}]},
          "mark": {"type": "rule", "color": "#3a3a3a", "strokeWidth": 1.2},
          "encoding": {
            "y": {"datum": 106.4, "type": "quantitative", "title": null}
          }
        },
        {
          "data": {"name": "rsiLevels"},
          "mark": {"type": "rule", "color": "#7a7a7a", "strokeWidth": 0.8, "strokeDash": [3, 3]},
          "encoding": {
            "y": {"field": "lvl", "type": "quantitative", "title": null}
          }
        },
        {
          "data": {"name": "candles"},
          "mark": {"type": "line", "color": "#2b8fe6", "strokeWidth": 1},
          "encoding": {
            "x": {"field": "d", "type": "temporal", "title": null},
            "y": {
              "field": "r", "type": "quantitative", "title": null,
              "scale": {"domain": [-5.13, 674.4], "nice": false, "zero": false, "padding": 0},
              "axis": {
                "orient": "right",
                "values": [0, 50, 100],
                "format": ".2f",
                "labelAlign": "left",
                "labelPadding": 3,
                "domain": false,
                "labelOverlap": false
              }
            }
          }
        },
        {
          "data": {"name": "candles"},
          "mark": {"type": "line", "color": "#f0862a", "strokeWidth": 1, "interpolate": "monotone"},
          "encoding": {
            "x": {"field": "d", "type": "temporal", "title": null},
            "y": {"field": "s", "type": "quantitative", "title": null}
          }
        },
        {
          "data": {"name": "rsiTags"},
          "mark": {"type": "bar", "orient": "horizontal", "size": 10},
          "encoding": {
            "x": {"datum": {"year": 2027, "month": 10, "date": 7}, "type": "temporal", "title": null},
            "x2": {"datum": {"year": 2027, "month": 11, "date": 29}},
            "y": {"field": "r", "type": "quantitative", "title": null},
            "fill": {"condition": {"test": "datum.k == 'rsi'", "value": "#2196f3"}, "value": "#f57c1f"}
          }
        },
        {
          "data": {"name": "rsiTags"},
          "mark": {"type": "text", "fontSize": 6.5, "align": "center", "baseline": "middle", "dy": 1, "color": "#ffffff"},
          "encoding": {
            "x": {"datum": {"year": 2027, "month": 11, "date": 3}, "type": "temporal", "title": null},
            "y": {"field": "r", "type": "quantitative", "title": null},
            "text": {"field": "t"}
          }
        }
      ]
    },
    {
      "data": {"name": "levels"},
      "mark": {"type": "rule", "opacity": 0},
      "encoding": {
        "y": {
          "field": "v", "type": "quantitative", "title": null,
          "scale": {"domain": [-144.4, 439.7], "nice": false, "zero": false, "padding": 0},
          "axis": {
            "orient": "right",
            "values": [0, 50, 100, 150, 200, 250, 300, 350, 400],
            "labelExpr": "datum.value == 0 ? '0.0000' : (datum.value >= 100 ? format(datum.value, '.1f') : format(datum.value, '.2f'))",
            "labelAlign": "left",
            "labelPadding": 3,
            "domain": false,
            "labelOverlap": false
          }
        }
      }
    }
  ]
}
